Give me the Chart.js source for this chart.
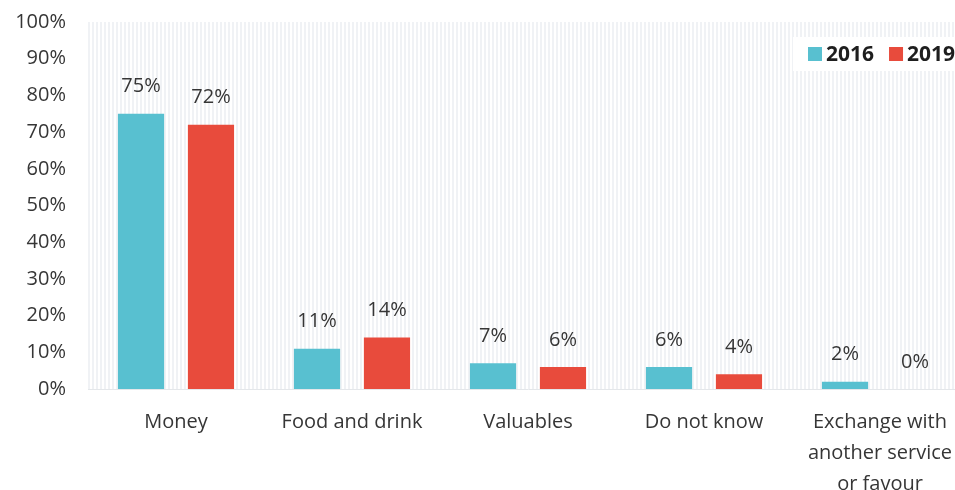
<!DOCTYPE html>
<html>
<head>
<meta charset="utf-8">
<script src="https://cdn.jsdelivr.net/npm/chart.js@4/dist/chart.umd.min.js"></script>
<style>
  html, body { margin: 0; padding: 0; background: #ffffff; overflow: hidden; }
  #wrap { width: 968px; height: 490px; position: relative; }
</style>
</head>
<body>
<div id="wrap"><canvas id="c"></canvas></div>
<script>
// Categories and yearly shares (percent)
const categories = [
  'Money',
  'Food and drink',
  'Valuables',
  'Do not know',
  ['Exchange with', 'another service', 'or favour']
];
const years = ['2016', '2019'];
const values2016 = [75, 11, 7, 6, 2];
const values2019 = [72, 14, 6, 4, 0];
const yTicks = [0, 10, 20, 30, 40, 50, 60, 70, 80, 90, 100];

const colors = ['#58c0d0', '#e84b3c'];
const textColor = '#363636';
const fontFamily = "'Open Sans', 'Liberation Sans', sans-serif";

// faint vertical stripe texture for the plot area
function stripePattern(ctx) {
  const p = document.createElement('canvas');
  p.width = 4; p.height = 4;
  const pc = p.getContext('2d');
  pc.fillStyle = '#ffffff';
  pc.fillRect(0, 0, 4, 4);
  pc.fillStyle = '#f0f2f5';
  pc.fillRect(0, 0, 2, 4);
  return ctx.createPattern(p, 'repeat');
}

const backgroundPlugin = {
  id: 'plotBackground',
  beforeDraw(chart) {
    const { ctx, chartArea: a } = chart;
    ctx.save();
    ctx.fillStyle = stripePattern(ctx);
    ctx.fillRect(a.left, a.top, a.right - a.left, a.bottom - a.top);
    ctx.restore();
  }
};

// value labels above each bar
const valueLabelPlugin = {
  id: 'valueLabels',
  afterDatasetsDraw(chart) {
    const { ctx } = chart;
    ctx.save();
    ctx.font = '20px ' + fontFamily;
    ctx.fillStyle = textColor;
    ctx.textAlign = 'center';
    ctx.textBaseline = 'middle';
    chart.data.datasets.forEach((ds, i) => {
      chart.getDatasetMeta(i).data.forEach((bar, j) => {
        ctx.fillText(ds.data[j] + '%', bar.x, bar.y - 27);
      });
    });
    ctx.restore();
  }
};

// legend box in the upper right corner of the plot
const legendPlugin = {
  id: 'cornerLegend',
  afterDraw(chart) {
    const { ctx, chartArea: a } = chart;
    ctx.save();
    const boxLeft = a.right - 175, boxTop = a.top + 15;
    ctx.fillStyle = '#ffffff';
    ctx.fillRect(boxLeft, boxTop, 175, 34);
    ctx.font = 'bold 21px ' + fontFamily;
    ctx.textBaseline = 'middle';
    let x = boxLeft + 15;
    const cy = boxTop + 17;
    chart.data.datasets.forEach((ds) => {
      ctx.fillStyle = ds.backgroundColor;
      ctx.fillRect(x, cy - 7, 14, 14);
      ctx.fillStyle = '#1e1e1e';
      ctx.fillText(ds.label, x + 18, cy + 1);
      x += 18 + ctx.measureText(ds.label).width + 15;
    });
    ctx.restore();
  }
};

new Chart(document.getElementById('c'), {
  type: 'bar',
  data: {
    labels: categories,
    datasets: [
      { label: years[0], data: values2016, backgroundColor: colors[0] },
      { label: years[1], data: values2019, backgroundColor: colors[1] }
    ]
  },
  options: {
    responsive: true,
    maintainAspectRatio: false,
    animation: false,
    devicePixelRatio: 1,
    layout: { padding: { top: 22, right: 0, left: 0, bottom: 0 } },
    datasets: { bar: { categoryPercentage: 0.795, barPercentage: 0.66 } },
    plugins: { legend: { display: false }, tooltip: { enabled: false } },
    scales: {
      x: {
        grid: { display: false, drawTicks: false },
        border: { display: true, color: '#e4e7ea', width: 1 },
        ticks: {
          color: textColor,
          font: { family: fontFamily, size: 20, lineHeight: 1.55 },
          padding: 18,
          maxRotation: 0,
          autoSkip: false
        },
        afterFit(scale) {
          scale.height = 101;
          scale.paddingLeft = scale.paddingRight = 0;
          scale.paddingTop = scale.paddingBottom = 0;
        }
      },
      y: {
        min: 0, max: 100,
        afterBuildTicks(scale) { scale.ticks = yTicks.map(v => ({ value: v })); },
        grid: { display: false, drawTicks: false },
        border: { display: false },
        ticks: {
          color: textColor,
          font: { family: fontFamily, size: 20 },
          padding: 22,
          callback: v => v + '%'
        },
        afterFit(scale) {
          scale.width = 88;
          scale.paddingTop = scale.paddingBottom = 0;
          scale.paddingLeft = scale.paddingRight = 0;
        }
      }
    }
  },
  plugins: [backgroundPlugin, valueLabelPlugin, legendPlugin]
});
</script>
</body>
</html>
